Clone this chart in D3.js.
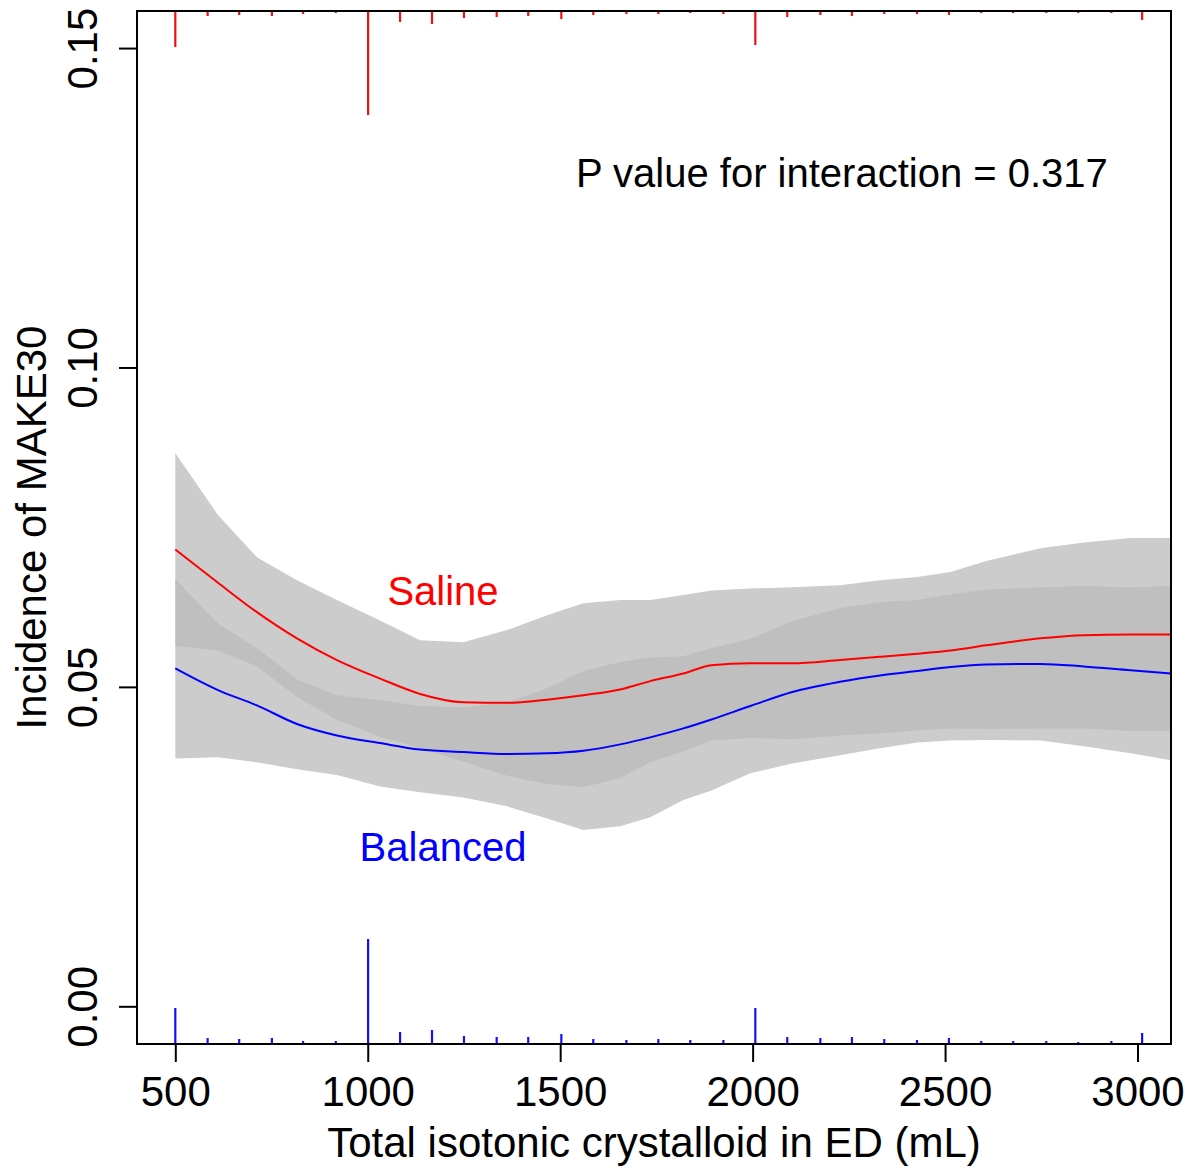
<!DOCTYPE html>
<html>
<head>
<meta charset="utf-8">
<script src="https://cdn.jsdelivr.net/npm/d3@7"></script>
<style>
  body { margin: 0; background: #fff; }
  text { font-family: "Liberation Sans", Arial, sans-serif; }
</style>
</head>
<body>
<svg id="chart" width="1185" height="1168"></svg>
<script>
// x positions (mL) where the fitted curves were read
var volume = [500, 611, 712, 816, 920, 1032, 1136, 1248, 1362, 1466, 1560, 1656, 1734,
  1820, 1893, 1994, 2103, 2227, 2331, 2428, 2514, 2607, 2748, 2860, 2982, 3088];

// saline fit and confidence band
var salineFit = [0.0715, 0.0663, 0.0617, 0.0576, 0.0542, 0.0513, 0.0489, 0.0476, 0.0475, 0.0480, 0.0487, 0.0496, 0.0509,
  0.0521, 0.0534, 0.0537, 0.0537, 0.0542, 0.0547, 0.0552, 0.0557, 0.0565, 0.0576, 0.0581, 0.0582, 0.0582];
var salineUpper = [0.0866, 0.0769, 0.0703, 0.0667, 0.0636, 0.0604, 0.0573, 0.0570, 0.0589, 0.0612, 0.0631, 0.0636, 0.0636,
  0.0644, 0.0651, 0.0654, 0.0656, 0.0659, 0.0667, 0.0672, 0.0680, 0.0697, 0.0717, 0.0726, 0.0733, 0.0733];
var salineLower = [0.0564, 0.0557, 0.0532, 0.0484, 0.0448, 0.0422, 0.0404, 0.0383, 0.0361, 0.0348, 0.0343, 0.0357, 0.0382,
  0.0399, 0.0416, 0.0420, 0.0418, 0.0424, 0.0427, 0.0432, 0.0435, 0.0434, 0.0435, 0.0435, 0.0431, 0.0431];

// balanced fit and confidence band
var balancedFit = [0.0529, 0.0495, 0.0471, 0.0442, 0.0424, 0.0412, 0.0402, 0.0398, 0.0395, 0.0396, 0.0400, 0.0410, 0.0421,
  0.0435, 0.0449, 0.0470, 0.0492, 0.0508, 0.0518, 0.0525, 0.0531, 0.0535, 0.0536, 0.0532, 0.0526, 0.0521];
var balancedUpper = [0.0669, 0.0599, 0.0561, 0.0512, 0.0487, 0.0479, 0.0470, 0.0468, 0.0476, 0.0498, 0.0525, 0.0539, 0.0546,
  0.0548, 0.0561, 0.0575, 0.0603, 0.0623, 0.0633, 0.0636, 0.0645, 0.0652, 0.0656, 0.0658, 0.0656, 0.0658];
var balancedLower = [0.0388, 0.0390, 0.0382, 0.0371, 0.0362, 0.0344, 0.0335, 0.0327, 0.0313, 0.0294, 0.0276, 0.0282, 0.0296,
  0.0323, 0.0338, 0.0365, 0.0380, 0.0393, 0.0404, 0.0413, 0.0416, 0.0417, 0.0416, 0.0407, 0.0396, 0.0385];

// distribution of volumes (spikes on top for saline, bottom for balanced)
var rugVolume = [500, 584, 666, 751, 832, 917, 1001, 1084, 1167, 1250, 1335, 1417, 1503, 1586, 1672, 1755,
  1838, 1924, 2007, 2090, 2176, 2258, 2342, 2427, 2510, 2594, 2677, 2763, 2846, 2932, 3012];
var salineCount = [36, 5, 4, 5, 3, 2, 104, 11, 13, 7, 6, 5, 8, 4, 3, 3, 2, 3, 34, 6, 4, 5, 3, 3, 4, 2, 2, 2, 2, 2, 9];
var balancedCount = [36, 6, 5, 6, 3, 3, 105, 12, 14, 8, 7, 7, 10, 5, 4, 5, 4, 4, 36, 7, 6, 7, 5, 4, 6, 3, 3, 3, 2, 3, 11];

var xTicks = [500, 1000, 1500, 2000, 2500, 3000];
var yTicks = [0, 0.05, 0.10, 0.15];

var svg = d3.select("#chart");
// plot box edges
var boxLeft = 137, boxRight = 1171, boxTop = 11, boxBottom = 1044;

var x = d3.scaleLinear().domain([400.5, 3087]).range([boxLeft, boxRight]);
var y = d3.scaleLinear().domain([-0.0059, 0.1558]).range([boxBottom, boxTop]);
var spike = d3.scaleLinear().domain([0, 104]).range([0, 104]);

svg.append("clipPath").attr("id", "plotClip")
  .append("rect")
  .attr("x", boxLeft).attr("y", boxTop)
  .attr("width", boxRight - boxLeft).attr("height", boxBottom - boxTop);

var plot = svg.append("g").attr("clip-path", "url(#plotClip)");

// confidence bands
function band(lower, upper) {
  return d3.area()
    .x(function(d, i) { return x(volume[i]); })
    .y0(function(d, i) { return y(lower[i]); })
    .y1(function(d, i) { return y(upper[i]); })(volume);
}
plot.append("path").attr("d", band(salineLower, salineUpper))
  .attr("fill", "#bbbbbb").attr("fill-opacity", 0.75);
plot.append("path").attr("d", band(balancedLower, balancedUpper))
  .attr("fill", "#bbbbbb").attr("fill-opacity", 0.75);

// fitted lines
function fitLine(vals) {
  return d3.line()
    .curve(d3.curveMonotoneX)
    .x(function(d, i) { return x(volume[i]); })
    .y(function(d, i) { return y(vals[i]); })(volume);
}
plot.append("path").attr("d", fitLine(salineFit))
  .attr("fill", "none").attr("stroke", "#ff0000").attr("stroke-width", 2);
plot.append("path").attr("d", fitLine(balancedFit))
  .attr("fill", "none").attr("stroke", "#0000ff").attr("stroke-width", 2);

// spikes
plot.selectAll(".topSpike")
  .data(rugVolume)
  .enter()
  .append("line")
  .attr("class", "topSpike")
  .attr("x1", function(d) { return x(d); })
  .attr("x2", function(d) { return x(d); })
  .attr("y1", boxTop)
  .attr("y2", function(d, i) { return boxTop + spike(salineCount[i]); })
  .attr("stroke", "#ee1111").attr("stroke-width", 2.2);

plot.selectAll(".bottomSpike")
  .data(rugVolume)
  .enter()
  .append("line")
  .attr("class", "bottomSpike")
  .attr("x1", function(d) { return x(d); })
  .attr("x2", function(d) { return x(d); })
  .attr("y1", boxBottom)
  .attr("y2", function(d, i) { return boxBottom - spike(balancedCount[i]); })
  .attr("stroke", "#1111ff").attr("stroke-width", 2.2);

// axes
var xAxis = svg.append("g")
  .attr("transform", "translate(0," + boxBottom + ")")
  .call(d3.axisBottom(x).tickValues(xTicks).tickSize(18).tickSizeOuter(0).tickFormat(d3.format("d")));
xAxis.select(".domain").remove();
xAxis.selectAll(".tick line").attr("stroke", "#000").attr("stroke-width", 2);
xAxis.selectAll(".tick text")
  .attr("y", 62).attr("dy", 0)
  .attr("font-size", "42px").attr("fill", "#000");

var yAxis = svg.append("g")
  .attr("transform", "translate(" + boxLeft + ",0)")
  .call(d3.axisLeft(y).tickValues(yTicks).tickSize(18).tickSizeOuter(0).tickFormat(d3.format(".2f")));
yAxis.select(".domain").remove();
yAxis.selectAll(".tick line").attr("stroke", "#000").attr("stroke-width", 2);
yAxis.selectAll(".tick text")
  .attr("x", 0).attr("y", -40).attr("dy", 0)
  .attr("transform", "rotate(-90)")
  .attr("text-anchor", "middle")
  .attr("font-size", "42px").attr("fill", "#000");

// frame
svg.append("rect")
  .attr("x", boxLeft).attr("y", boxTop)
  .attr("width", boxRight - boxLeft).attr("height", boxBottom - boxTop)
  .attr("fill", "none").attr("stroke", "#000").attr("stroke-width", 2);

// labels
svg.append("text")
  .attr("x", (boxLeft + boxRight) / 2).attr("y", 1157)
  .attr("text-anchor", "middle").attr("font-size", "42px")
  .text("Total isotonic crystalloid in ED (mL)");

svg.append("text")
  .attr("transform", "translate(46," + (boxTop + boxBottom) / 2 + ") rotate(-90)")
  .attr("text-anchor", "middle").attr("font-size", "42px")
  .text("Incidence of MAKE30");

svg.append("text")
  .attr("x", 576).attr("y", 187)
  .attr("font-size", "40px")
  .text("P value for interaction = 0.317");

svg.append("text")
  .attr("x", 443).attr("y", 605)
  .attr("text-anchor", "middle").attr("font-size", "40px")
  .attr("fill", "#ff0000")
  .text("Saline");

svg.append("text")
  .attr("x", 443).attr("y", 861)
  .attr("text-anchor", "middle").attr("font-size", "40px")
  .attr("fill", "#0000ff")
  .text("Balanced");
</script>
</body>
</html>
